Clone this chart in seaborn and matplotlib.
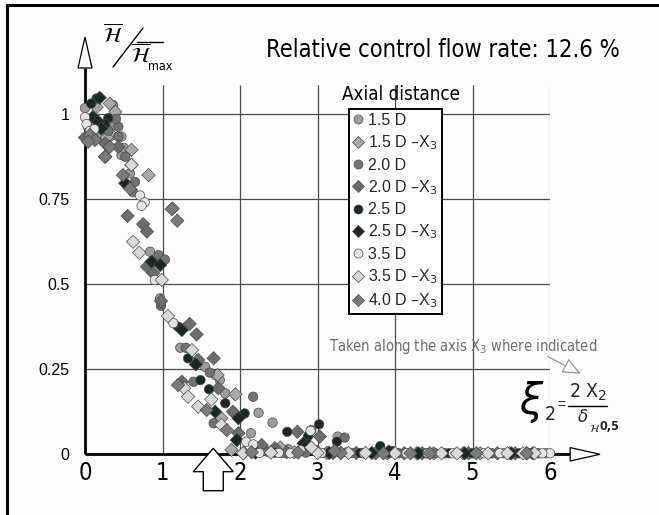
import matplotlib
matplotlib.use("Agg")
import matplotlib.pyplot as plt
import seaborn as sns
import pandas as pd
from matplotlib.lines import Line2D
from matplotlib.patches import Polygon, FancyArrowPatch

sns.set_theme(style="white")
plt.rcParams['font.family'] = ['Liberation Sans', 'DejaVu Sans']
plt.rcParams['mathtext.fontset'] = 'dejavusans'
NARROW = dict(family=['DejaVu Sans'], fontstretch='condensed')

# ---------------- data ----------------
series_names = ["1.5 D", "1.5 D –X$_3$", "2.0 D", "2.0 D –X$_3$", "2.5 D",
                "2.5 D –X$_3$", "3.5 D", "3.5 D –X$_3$", "4.0 D –X$_3$"]
series_markers = ["o", "D", "o", "D", "o", "D", "o", "D", "D"]
series_colors = ["#9c9c9c", "#a9a9a9", "#727272", "#6c6c6c", "#1d2525",
                 "#1d2525", "#e4e4e4", "#d9d9d9", "#7a7a7a"]

x_15 = [0.0, 0.36, 0.39, 0.47, 0.47, 0.58, 0.84, 0.97, 1.23, 1.55, 1.68, 1.74, 1.81,
        2.24, 2.42, 2.14, 3.26, 2.30, 2.55, 3.1, 3.6, 4.2, 4.8, 5.4, 5.95, 0.04,
        0.22, 0.50, 2.62, 3.38, 4.02, 4.62, 5.22, 5.75]
y_15 = [1.017, 1.026, 0.967, 0.933, 0.879, 0.825, 0.595, 0.458, 0.313, 0.257, 0.233, 0.218, 0.179,
        0.122, 0.093, 0.062, 0.052, 0.012, 0.004, 0.004, 0.003, 0.003, 0.003, 0.003, 0.003, 0.96,
        0.94, 0.90, 0.015, 0.006, 0.003, 0.003, 0.003, 0.003]

x_15x = [0.15, 0.34, 0.6, 0.6, 1.13, 1.71, 1.94, 1.76, 1.89, 0.32, 0.39, 0.82,
         2.05, 2.7, 3.3, 3.9, 4.5, 5.1, 5.7, 0.28, 2.52, 3.12, 4.28, 4.88, 5.48]
y_15x = [1.02, 0.938, 0.894, 0.85, 0.722, 0.233, 0.176, 0.106, 0.013, 1.03, 1.006, 0.82,
         0.005, 0.006, 0.004, 0.003, 0.003, 0.003, 0.003, 0.93, 0.02, 0.004, 0.003, 0.003, 0.003]

x_20 = [0.43, 0.43, 0.52, 0.645, 0.95, 1.03, 0.98, 1.30, 1.61, 1.40, 2.17, 3.35, 2.92,
        1.66, 2.35, 2.85, 3.45, 4.05, 4.65, 5.25, 5.85, 0.98, 0.30, 0.62, 0.40, 2.98, 3.92, 4.52]
y_20 = [0.962, 0.933, 0.874, 0.80, 0.585, 0.572, 0.436, 0.313, 0.24, 0.213, 0.169, 0.049, 0.071,
        0.091, 0.008, 0.005, 0.004, 0.003, 0.003, 0.003, 0.003, 0.443, 0.95, 0.77, 0.985, 0.012,
        0.003, 0.003]

x_20x = [0.0, 0.26, 0.43, 0.26, 0.75, 0.8, 0.8, 0.88, 1.35, 1.44, 1.66, 1.46, 1.25, 1.72,
         1.91, 1.98, 2.74, 3.03, 2.28, 2.6, 3.2, 3.75, 4.35, 4.95, 5.55, 0.98, 0.55,
         0.08, 2.45, 3.5, 4.12, 5.32]
y_20x = [0.93, 0.913, 0.903, 0.874, 0.676, 0.654, 0.551, 0.532, 0.383, 0.352, 0.282, 0.277, 0.213, 0.194,
         0.125, 0.062, 0.066, 0.052, 0.027, 0.006, 0.004, 0.003, 0.003, 0.003, 0.003, 0.45, 0.70,
         0.965, 0.018, 0.004, 0.003, 0.003]

x_25 = [0.15, 0.3, 1.2, 1.33, 1.49, 1.6, 1.81, 2.06, 2.61, 2.88, 3.02, 3.25, 3.81, 3.96,
        2.45, 3.55, 4.4, 5.0, 5.6, 0.08, 0.26, 4.7]
y_25 = [1.045, 0.987, 0.375, 0.282, 0.218, 0.191, 0.15, 0.12, 0.066, 0.054, 0.088, 0.037, 0.024, 0.01,
        0.005, 0.004, 0.003, 0.003, 0.003, 1.03, 0.97, 0.003]

x_25x = [0.19, 0.1, 0.17, 0.21, 0.52, 0.86, 0.97, 1.25, 1.43, 1.68, 1.98, 1.96, 2.82, 2.88,
         2.2, 3.15, 3.7, 4.3, 4.9, 5.5, 3.92, 5.78]
y_25x = [1.047, 0.99, 0.977, 0.957, 0.796, 0.566, 0.556, 0.365, 0.264, 0.125, 0.106, 0.042, 0.032, 0.027,
         0.005, 0.004, 0.004, 0.003, 0.003, 0.003, 0.008, 0.003]

x_35 = [0.0, 0.02, 0.065, 0.71, 0.77, 0.73, 0.9, 1.14, 2.08, 2.17, 2.91,
        2.25, 2.5, 2.65, 3.05, 3.6, 4.15, 4.75, 5.05, 5.15, 5.35, 6.0, 5.9, 0.12, 2.78, 4.42]
y_35 = [0.99, 0.97, 0.95, 0.76, 0.74, 0.73, 0.512, 0.385, 0.037, 0.029, 0.069,
        0.004, 0.004, 0.003, 0.004, 0.003, 0.003, 0.003, 0.003, 0.003, 0.003, 0.003, 0.003,
        0.955, 0.012, 0.003]

x_35x = [0.62, 0.70, 0.99, 1.07, 1.38, 1.28, 1.33, 1.63, 1.46, 1.76, 2.04,
         2.4, 3.0, 3.4, 4.0, 4.6, 5.2, 5.45, 5.65, 5.8, 0.6, 2.92, 3.62, 4.8]
y_35x = [0.624, 0.592, 0.512, 0.406, 0.306, 0.194, 0.169, 0.161, 0.14, 0.086, 0.003,
         0.005, 0.004, 0.004, 0.003, 0.003, 0.003, 0.003, 0.003, 0.003, 0.85, 0.02, 0.004, 0.003]

x_40x = [0.065, 0.13, 0.32, 0.49, 0.58, 1.12, 1.19, 1.20, 1.57, 1.83, 0.26,
         2.15, 2.75, 3.3, 3.85, 4.45, 5.05, 5.7, 0.04, 3.22, 4.2]
y_40x = [0.938, 0.923, 0.903, 0.82, 0.78, 0.72, 0.686, 0.2035, 0.13, 0.071, 0.874,
         0.006, 0.005, 0.004, 0.003, 0.003, 0.003, 0.003, 0.918, 0.01, 0.003]

series_x = [x_15, x_15x, x_20, x_20x, x_25, x_25x, x_35, x_35x, x_40x]
series_y = [y_15, y_15x, y_20, y_20x, y_25, y_25x, y_35, y_35x, y_40x]

x_ticks = [0, 1, 2, 3, 4, 5, 6]
y_ticks = [0, 0.25, 0.5, 0.75, 1]
y_tick_labels = ["0", "0.25", "0.5", "0.75", "1"]

rows = []
for name, xs, ys in zip(series_names, series_x, series_y):
    for a, b in zip(xs, ys):
        rows.append({"xi": a, "h": b, "series": name})
df = pd.DataFrame(rows)

# ---------------- figure ----------------
W, H = 659, 515
fig = plt.figure(figsize=(W / 100, H / 100), dpi=100)
fig.patch.set_facecolor("#fdfdfd")
px0, px6 = 85, 550
py0, py1 = 454.3, 113.8
ytop = 1.085
ax = fig.add_axes([px0 / W, 1 - py0 / H, (px6 - px0) / W, (py0 - py1) * ytop / H])
ax.set_facecolor("none")
ax.set_xlim(0, 6)
ax.set_ylim(0, ytop)
for s in ax.spines.values():
    s.set_visible(False)

# frame of picture
fig.add_artist(Line2D([7 / W, 7 / W], [0, 1 - 5 / H], color="black", lw=2.2))
fig.add_artist(Line2D([7 / W, 1], [1 - 5 / H, 1 - 5 / H], color="black", lw=2.2))

# grid
ax.hlines([0.25, 0.5, 0.75, 1.0], 0, 6, color="#4a4a4a", lw=0.9, zorder=1)
ax.vlines([1, 2, 3, 4, 5], 0, ytop, color="#4a4a4a", lw=0.9, zorder=1)
ax.vlines([6], 0, ytop, color="#b0b0b0", lw=0.9, zorder=1)

# scatter
sns.scatterplot(data=df, x="xi", y="h", hue="series", style="series",
                hue_order=series_names, style_order=series_names,
                palette=dict(zip(series_names, series_colors)),
                markers=dict(zip(series_names, series_markers)),
                s=46, edgecolor="#4a4a4a", linewidth=0.5, legend=False,
                ax=ax, zorder=3, clip_on=False)

# axes lines + arrows
ax.plot([0, 6.26], [0, 0], color="black", lw=2, zorder=2, clip_on=False,
        solid_capstyle="butt")
ax.plot([0, 0], [0, 1.1345], color="black", lw=2, zorder=2, clip_on=False,
        solid_capstyle="butt")
ax.add_patch(Polygon([[6.26, -0.0197], [6.645, 0], [6.26, 0.0197]], closed=True,
                     fc="white", ec="black", lw=0.9, clip_on=False, zorder=4))
ax.add_patch(Polygon([[-0.09, 1.1345], [0, 1.2256], [0.09, 1.1345]], closed=True,
                     fc="white", ec="black", lw=0.9, clip_on=False, zorder=4))
# hollow block arrow
ax.add_patch(Polygon([[1.655, 0.0176], [1.655 + 0.258, -0.051], [1.655 + 0.129, -0.051],
                      [1.655 + 0.129, -0.107], [1.655 - 0.129, -0.107],
                      [1.655 - 0.129, -0.051], [1.655 - 0.258, -0.051]], closed=True,
                     fc="white", ec="black", lw=1.0, clip_on=False, zorder=5))

# ticks
ax.set_xticks(x_ticks)
ax.set_xticklabels([str(t) for t in x_ticks], fontsize=17, **NARROW)
ax.set_yticks(y_ticks)
ax.set_yticklabels(y_tick_labels, fontsize=11.5)
ax.tick_params(axis="x", length=0, pad=5, colors="black")
ax.tick_params(axis="y", length=0, pad=11, colors="black")
ax.set_xlabel("")
ax.set_ylabel("")

# y label  H/Hmax
fig.text(103 / W, 1 - 35 / H, r"$\overline{\mathcal{H}}$", fontsize=15,
         ha="left", va="center", color="black")
fig.add_artist(Line2D([113 / W, 143 / W], [1 - 67 / H, 1 - 28 / H], color="black", lw=1.0))
fig.text(131 / W, 1 - 55 / H, r"$\overline{\mathcal{H}}$", fontsize=15,
         ha="left", va="center", color="black")
fig.add_artist(Line2D([137 / W, 163 / W], [1 - 42 / H, 1 - 42 / H], color="black", lw=1.0))
fig.text(148 / W, 1 - 67 / H, "max", fontsize=9, ha="left", va="center", color="black", **NARROW)

# title
fig.text(443 / W, 1 - 50 / H, "Relative control flow rate: 12.6 %", fontsize=17,
         ha="center", va="center", color="black", **NARROW)

# legend
handles = [Line2D([], [], linestyle="none", marker=m, markersize=6.5 if m == "o" else 6,
                  markerfacecolor=c, markeredgecolor="#4a4a4a", markeredgewidth=0.5)
           for m, c in zip(series_markers, series_colors)]
leg = ax.legend(handles, series_names, loc="upper left",
                bbox_to_anchor=(349 / W, 1 - 109 / H), bbox_transform=fig.transFigure,
                frameon=True, fancybox=False, edgecolor="black", facecolor="white",
                framealpha=1, fontsize=11.5, handlelength=0.6, handletextpad=0.35,
                labelspacing=0.34, borderpad=0.25, borderaxespad=0)
leg.get_frame().set_linewidth(1.4)
leg.set_zorder(10)
fig.text(401 / W, 1 - 95 / H, "Axial distance", fontsize=13.5,
         ha="center", va="center", color="black", **NARROW)

# annotation
fig.text(463 / W, 1 - 346 / H, "Taken along the axis X$_3$ where indicated", fontsize=10.5,
         ha="center", va="center", color="#6e6e6e", **NARROW)
fig.add_artist(FancyArrowPatch((545 / W, 1 - 355 / H), (583 / W, 1 - 375 / H),
                               transform=fig.transFigure,
                               arrowstyle="-|>,head_length=0.8,head_width=0.35",
                               mutation_scale=14, fc="white", ec="#8a8a8a", lw=0.8))

# formula xi_2 = 2 X_2 / delta_H0,5
fig.text(532 / W, 1 - 402 / H, r"$\xi$", fontsize=30, ha="center", va="center",
         color="black")
fig.text(550 / W, 1 - 415 / H, "2", fontsize=14, ha="center", va="center", **NARROW)
fig.text(561 / W, 1 - 405 / H, "=", fontsize=10, ha="center", va="center")
fig.text(588 / W, 1 - 392 / H, "2 X$_2$", fontsize=14, ha="center", va="center", **NARROW)
fig.add_artist(Line2D([568 / W, 607 / W], [1 - 406 / H, 1 - 406 / H], color="black", lw=1.0))
fig.text(583 / W, 1 - 417 / H, r"$\delta$", fontsize=12, ha="center", va="center")
fig.text(589 / W, 1 - 428 / H, r"$\mathcal{H}$", fontsize=8, ha="left", va="center")
fig.text(600 / W, 1 - 427 / H, "0,5", fontsize=9, fontweight="bold",
         ha="left", va="center", **NARROW)

fig.savefig("out.png", dpi=100, facecolor=fig.get_facecolor())
